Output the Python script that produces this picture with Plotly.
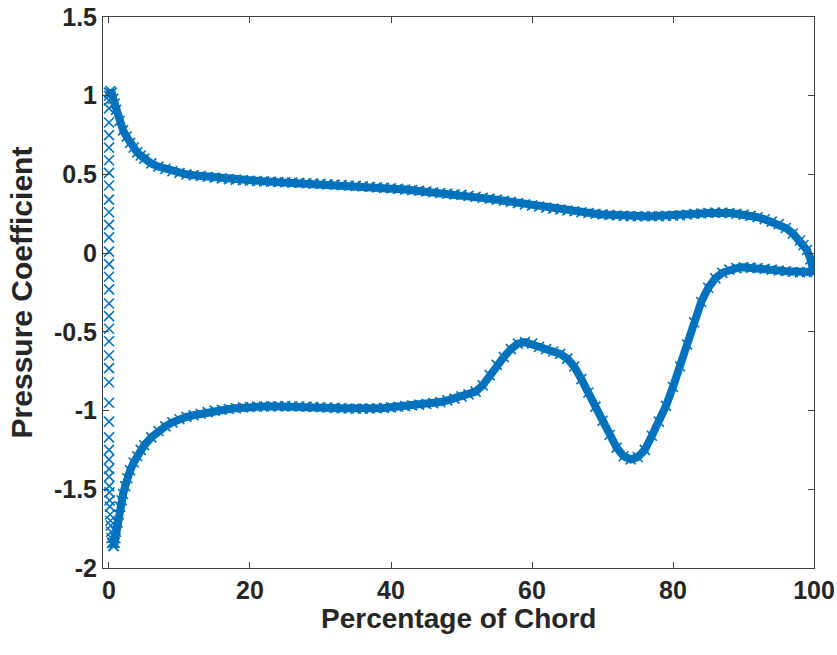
import plotly.graph_objects as go

# Pressure-side (upper Cp curve)
x_upper = [0, 0.2, 0.4, 0.6, 0.8, 1, 1.5, 2, 2.5, 3, 3.5, 4, 4.5, 5, 6, 7, 8, 9,
           10, 11, 12, 13, 14, 15, 16, 17, 18, 19, 20, 21, 22, 23, 24, 25, 26, 27, 28, 29,
           30, 31, 32, 33, 34, 35, 36, 37, 38, 39, 40, 41, 42, 43, 44, 45, 46, 47, 48, 49,
           50, 51, 52, 53, 54, 55, 56, 57, 58, 59, 60, 61, 62, 63, 64, 65, 66, 67, 68, 69,
           70, 71, 72, 73, 74, 75, 76, 77, 78, 79, 80, 81, 82, 83, 84, 85, 86, 87, 88, 89,
           90, 91, 92, 93, 94, 95, 96, 97, 98, 98.5, 99, 99.5, 100]
cp_upper = [1.00, 1.03, 1.02, 0.98, 0.95, 0.91, 0.84, 0.78, 0.74, 0.70, 0.67, 0.64, 0.62, 0.60, 0.57, 0.55, 0.535, 0.52,
            0.51, 0.50, 0.495, 0.49, 0.485, 0.48, 0.475, 0.47, 0.467, 0.464, 0.46, 0.458, 0.456, 0.454, 0.452, 0.45, 0.448, 0.446, 0.444, 0.442,
            0.44, 0.437, 0.435, 0.432, 0.43, 0.427, 0.424, 0.421, 0.418, 0.415, 0.412, 0.408, 0.404, 0.40, 0.396, 0.392, 0.387, 0.382, 0.377, 0.373,
            0.370, 0.364, 0.358, 0.352, 0.346, 0.340, 0.333, 0.326, 0.318, 0.310, 0.303, 0.296, 0.289, 0.283, 0.277, 0.271, 0.266, 0.260, 0.255, 0.250,
            0.246, 0.242, 0.239, 0.237, 0.235, 0.234, 0.234, 0.234, 0.235, 0.236, 0.238, 0.241, 0.245, 0.249, 0.252, 0.255, 0.257, 0.257, 0.255, 0.250,
            0.245, 0.237, 0.228, 0.215, 0.200, 0.185, 0.160, 0.125, 0.080, 0.050, 0.020, -0.040, -0.120]

# Suction side: leading-edge column of points at ~0 % chord
x_le = [0, 0, 0, 0, 0, 0, 0, 0, 0, 0, 0, 0, 0, 0, 0, 0, 0, 0, 0, 0, 0, 0, 0, 0, 0, 0, 0, 0, 0,
        0.01, 0.02, 0.04, 0.06, 0.09, 0.12, 0.16, 0.2, 0.25, 0.3, 0.36, 0.43]
cp_le = [1.02, 0.97, 0.92, 0.83, 0.75, 0.67, 0.59, 0.51, 0.43, 0.34, 0.26, 0.18, 0.10, 0.01, -0.07, -0.15, -0.23,
         -0.32, -0.40, -0.48, -0.56, -0.65, -0.73, -0.82, -0.95, -1.07, -1.17, -1.25, -1.31,
         -1.37, -1.42, -1.48, -1.52, -1.57, -1.61, -1.66, -1.70, -1.73, -1.77, -1.81, -1.84]

# Suction side (lower Cp curve)
x_lower = [0.5, 0.6, 0.7, 0.8, 0.9, 1.0, 1.2, 1.4, 1.6, 1.8, 2.0, 2.3, 2.6, 3.0, 3.5, 4, 4.5, 5, 6, 7, 8, 9,
           10, 11, 12, 13, 14, 15, 16, 17, 18, 19, 20, 21, 22, 23, 24, 25, 26, 27, 28, 29,
           30, 31, 32, 33, 34, 35, 36, 37, 38, 39, 40, 41, 42, 43, 44, 45, 46, 47, 48, 49,
           50, 51, 52, 53, 54, 55, 56, 57, 58, 59, 60, 61, 62, 63, 64, 65, 66, 67, 68, 69,
           70, 71, 72, 73, 74, 75, 76, 77, 78, 79, 80, 81, 82, 83, 84, 85, 86, 87, 88, 89,
           90, 91, 92, 93, 94, 95, 96, 97, 98, 99, 100]
cp_lower = [-1.84, -1.86, -1.86, -1.84, -1.81, -1.77, -1.71, -1.66, -1.61, -1.57, -1.53, -1.48, -1.43, -1.38, -1.33, -1.29, -1.25, -1.22, -1.17, -1.13, -1.10, -1.075,
            -1.055, -1.04, -1.03, -1.02, -1.01, -1.0, -0.995, -0.99, -0.985, -0.98, -0.977, -0.975, -0.974, -0.973, -0.973, -0.972, -0.973, -0.974, -0.975, -0.977,
            -0.979, -0.981, -0.983, -0.985, -0.987, -0.988, -0.988, -0.987, -0.985, -0.983, -0.980, -0.976, -0.972, -0.967, -0.962, -0.958, -0.953, -0.946, -0.935, -0.924,
            -0.910, -0.897, -0.880, -0.840, -0.775, -0.710, -0.660, -0.610, -0.575, -0.565, -0.575, -0.595, -0.610, -0.625, -0.640, -0.670, -0.720, -0.800, -0.885, -0.975,
            -1.065, -1.155, -1.235, -1.290, -1.310, -1.295, -1.250, -1.160, -1.070, -0.970, -0.850, -0.720, -0.580, -0.440, -0.310, -0.220, -0.160, -0.125, -0.105, -0.095,
            -0.090, -0.092, -0.095, -0.100, -0.105, -0.110, -0.115, -0.120, -0.122, -0.120, -0.115]

x_ticks = [0, 20, 40, 60, 80, 100]
y_ticks = [-2, -1.5, -1, -0.5, 0, 0.5, 1, 1.5]
y_tick_text = ["-2", "-1.5", "-1", "-0.5", "0", "0.5", "1", "1.5"]
x_title = "Percentage of Chord"
y_title = "Pressure Coefficient"

BLUE = "#0072BD"
marker = dict(symbol="x-thin-open", size=10, color=BLUE, line=dict(color=BLUE, width=1.6))

fig = go.Figure()
fig.add_trace(go.Scatter(x=x_upper, y=cp_upper, mode="lines+markers",
                         line=dict(color=BLUE, width=8), marker=marker, showlegend=False))
fig.add_trace(go.Scatter(x=x_lower, y=cp_lower, mode="lines+markers",
                         line=dict(color=BLUE, width=8), marker=marker, showlegend=False))
fig.add_trace(go.Scatter(x=x_le, y=cp_le, mode="markers", marker=marker, showlegend=False))

font_family = "Liberation Sans, Arial, Helvetica, sans-serif"
axis_common = dict(showline=True, linecolor="#404040", linewidth=1, mirror="ticks",
                   ticks="inside", ticklen=6, tickcolor="#404040", tickwidth=1,
                   showgrid=False, zeroline=False, automargin=False,
                   tickfont=dict(family=font_family, size=25, color="#262626", weight="bold"))

fig.update_layout(
    width=837, height=655,
    margin=dict(l=103, r=23, t=17, b=87),
    paper_bgcolor="white", plot_bgcolor="white",
    xaxis=dict(range=[-0.85, 100], tickvals=x_ticks, ticktext=[str(v) for v in x_ticks],
               **axis_common),
    yaxis=dict(range=[-2, 1.5], tickvals=y_ticks, ticktext=y_tick_text,
               title=dict(text=y_title, standoff=12,
                          font=dict(family=font_family, size=30, color="#262626", weight="bold")),
               **axis_common),
    annotations=[dict(text=x_title, xref="paper", yref="paper", x=0.5, y=-0.092,
                      xanchor="center", yanchor="middle", showarrow=False,
                      font=dict(family=font_family, size=28, color="#262626", weight="bold"))],
)

fig.write_html("out.html")
